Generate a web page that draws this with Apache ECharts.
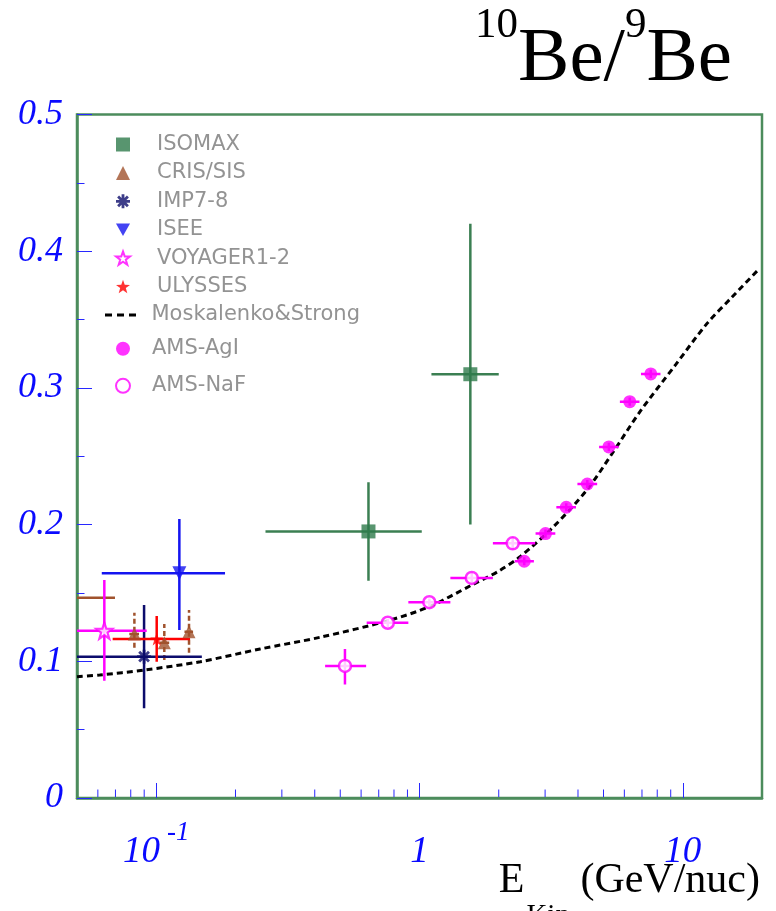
<!DOCTYPE html>
<html><head><meta charset="utf-8">
<script src="https://cdn.jsdelivr.net/npm/echarts@6/dist/echarts.min.js"></script>
<style>html,body{margin:0;padding:0;background:#fff}#c{width:776px;height:911px}</style>
</head><body><div id="c"></div>
<script>
// ---------- data ----------
const isomaxX   = [0.64, 1.56];
const isomaxY   = [0.195, 0.310];
const isomaxXlo = [0.26, 1.11];
const isomaxXhi = [1.02, 2.00];
const isomaxYlo = [0.159, 0.200];
const isomaxYhi = [0.231, 0.420];

const crisX   = [0.045, 0.0826, 0.1073, 0.1332];
const crisY   = [0.1465, 0.1200, 0.1136, 0.1217];
const crisXlo = [0.040, 0.079, 0.103, 0.128];
const crisXhi = [0.0697, 0.086, 0.112, 0.138];
const crisYlo = [0.1465, 0.1100, 0.1010, 0.1063];
const crisYhi = [0.1465, 0.1356, 0.1273, 0.1375];

const impX = [0.0899], impY = [0.1034], impXlo = [0.045], impXhi = [0.149], impYlo = [0.0656], impYhi = [0.1412];
const iseeX = [0.1224], iseeY = [0.1644], iseeXlo = [0.0621], iseeXhi = [0.1825], iseeYlo = [0.1229], iseeYhi = [0.2041];
const voyX = [0.0635], voyY = [0.1224], voyXlo = [0.045], voyXhi = [0.092], voyYlo = [0.0858], voyYhi = [0.1595];
const ulyX = [0.1004], ulyY = [0.1163], ulyXlo = [0.0683], ulyXhi = [0.1344], ulyYlo = [0.0997], ulyYhi = [0.1331];

const agiX   = [2.50, 3.01, 3.61, 4.34, 5.24, 6.29, 7.56];
const agiY   = [0.1732, 0.1934, 0.2127, 0.2297, 0.2568, 0.2899, 0.3102];
const agiXlo = [2.30, 2.76, 3.31, 3.98, 4.81, 5.77, 6.94];
const agiXhi = [2.72, 3.28, 3.93, 4.73, 5.71, 6.85, 8.23];
const agiYlo = [0.1702, 0.1904, 0.2097, 0.2267, 0.2538, 0.2869, 0.3072];
const agiYhi = [0.1762, 0.1964, 0.2157, 0.2327, 0.2598, 0.2929, 0.3132];

const nafX   = [0.521, 0.758, 1.09, 1.58, 2.26];
const nafY   = [0.0966, 0.1282, 0.1432, 0.1610, 0.1863];
const nafXlo = [0.438, 0.630, 0.907, 1.31, 1.90];
const nafXhi = [0.627, 0.907, 1.31, 1.90, 2.75];
const nafYlo = [0.0830, 0.1250, 0.1400, 0.1570, 0.1820];
const nafYhi = [0.1090, 0.1310, 0.1460, 0.1650, 0.1910];

const theoryX = [0.05, 0.061, 0.09, 0.147, 0.248, 0.42, 0.76, 1.09, 1.58, 2.0, 2.41, 3.23, 4.32, 5.45, 6.9, 9.4, 12.35, 15.4, 19.2];
const theoryY = [0.0887, 0.090, 0.0936, 0.0997, 0.109, 0.1176, 0.1297, 0.140, 0.1558, 0.166, 0.1765, 0.1985, 0.2253, 0.2533, 0.283, 0.317, 0.347, 0.3665, 0.3857];

const xMinorTicks = [0.06, 0.07, 0.08, 0.09, 0.2, 0.3, 0.4, 0.5, 0.6, 0.7, 0.8, 0.9, 2, 3, 4, 5, 6, 7, 8, 9];
const legendMain = ['ISOMAX', 'CRIS/SIS', 'IMP7-8', 'ISEE', 'VOYAGER1-2', 'ULYSSES'];
const legendTheory = ['Moskalenko&Strong'];
const legendAms = ['AMS-AgI', 'AMS-NaF'];

// ---------- styles ----------
const FRAME = '#4c8c5c';
const TICK = '#2828ff';
const LABEL = '#0a0aff';
const STAR = 'path://M10 0 L12.35 6.76 L19.51 6.91 L13.8 11.24 L15.88 18.09 L10 14 L4.12 18.09 L6.2 11.24 L0.49 6.91 L7.65 6.76 Z';
const ASTER = 'path://M0 8 L20 8 L20 12 L0 12 Z M8 0 L12 0 L12 20 L8 20 Z M4.41 1.59 L18.41 15.59 L15.59 18.41 L1.59 4.41 Z M15.59 1.59 L18.41 4.41 L4.41 18.41 L1.59 15.59 Z';
const DOWNTRI = 'path://M0 0 L20 0 L10 18 Z';
const DASHICON = 'path://M0 0 H7 V3 H0 Z M12 0 H19 V3 H12 Z M24 0 H31 V3 H24 Z';

function zip(xs, ys, xlo, xhi, ylo, yhi) {
  return xs.map((x, i) => [x, ys[i], xlo[i], xhi[i], ylo[i], yhi[i]]);
}
function errSeries(name, data, color, width, vDash) {
  return {
    type: 'custom', name: name + ' errors', clip: true, silent: true, z: 3,
    data: data, encode: { x: 0, y: 1 },
    renderItem: function (params, api) {
      const x = api.value(0), y = api.value(1);
      const a = api.coord([api.value(2), y]), b = api.coord([api.value(3), y]);
      const c = api.coord([x, api.value(4)]), d = api.coord([x, api.value(5)]);
      return { type: 'group', children: [
        { type: 'line', shape: { x1: a[0], y1: a[1], x2: b[0], y2: b[1] }, style: { stroke: color, lineWidth: width, fill: null } },
        { type: 'line', shape: { x1: c[0], y1: c[1], x2: d[0], y2: d[1] }, style: { stroke: color, lineWidth: width, lineDash: vDash || null, fill: null } }
      ] };
    }
  };
}
function pts(xs, ys) { return xs.map((x, i) => [x, ys[i]]); }

const chart = echarts.init(document.getElementById('c'), null, { renderer: 'canvas' });
const legendText = (gap) => ({ fontFamily: 'DejaVu Sans', fontSize: 21, color: '#939393', padding: [0, 0, 0, gap] });

chart.setOption({
  animation: false,
  backgroundColor: '#fff',
  title: [
    {
      text: '{sup|10}{b|Be/}{sup|9}{b|Be}', right: 44, top: 4, padding: 0,
      textStyle: { rich: {
        b: { fontFamily: 'Liberation Serif', fontWeight: 'normal', fontSize: 77, verticalAlign: 'top', padding: [17.7, 0, 0, 0], color: '#000' },
        sup: { fontFamily: 'Liberation Serif', fontWeight: 'normal', fontSize: 43, verticalAlign: 'top', color: '#000' }
      } }
    },
    {
      text: '{e|E}{s|Kin}{e| (GeV/nuc)}', right: 16, top: 860.3, padding: 0,
      textStyle: { rich: {
        e: { fontFamily: 'Liberation Serif', fontWeight: 'normal', fontSize: 42, verticalAlign: 'top', color: '#000' },
        s: { fontFamily: 'Liberation Serif', fontWeight: 'normal', fontSize: 29, verticalAlign: 'top', padding: [42, 0, 0, 2], color: '#000' }
      } }
    }
  ],
  legend: [
    { data: legendMain, orient: 'vertical', left: 115, top: 134, padding: 0, itemWidth: 14, itemHeight: 14,
      itemGap: 7.4, textStyle: legendText(22), selectedMode: false },
    { data: [{ name: legendTheory[0], icon: DASHICON }], orient: 'vertical', left: 105, top: 304.5, padding: 0,
      itemWidth: 32, itemHeight: 3, textStyle: legendText(10), selectedMode: false },
    { data: legendAms, orient: 'vertical', left: 115, top: 338.3, padding: 0, itemWidth: 14, itemHeight: 14,
      itemGap: 16, textStyle: legendText(17), selectedMode: false }
  ],
  grid: { left: 77, right: 14, top: 114.5, bottom: 113, show: true, borderColor: FRAME, borderWidth: 2.5, containLabel: false },
  xAxis: {
    type: 'log', logBase: 10, min: 0.05, max: 20,
    axisLine: { show: true, lineStyle: { color: FRAME, width: 2.5 } },
    axisTick: { show: true, inside: true, length: 15, lineStyle: { color: TICK, width: 1 } },
    splitLine: { show: false },
    axisLabel: {
      showMinLabel: false, showMaxLabel: false, margin: 21,
      formatter: function (v) {
        if (Math.abs(v - 0.1) < 1e-9) return '{n|10}{e|-1}';
        if (Math.abs(v - 1) < 1e-9) return '{n|1}';
        if (Math.abs(v - 10) < 1e-9) return '{n|10}';
        return '';
      },
      rich: {
        n: { fontFamily: 'Liberation Serif', fontStyle: 'italic', fontSize: 37, verticalAlign: 'top', padding: [14.6, 0, 0, 0], color: LABEL },
        e: { fontFamily: 'Liberation Serif', fontStyle: 'italic', fontSize: 27, verticalAlign: 'top', padding: [0, 0, 0, 7], color: LABEL }
      }
    }
  },
  yAxis: {
    type: 'value', min: 0, max: 0.5, interval: 0.1,
    axisLine: { show: true, lineStyle: { color: FRAME, width: 2.5 } },
    axisTick: { show: true, inside: true, length: 15, lineStyle: { color: TICK, width: 1 } },
    minorTick: { show: true, splitNumber: 2, length: 7.5, lineStyle: { color: TICK, width: 1 } },
    splitLine: { show: false },
    axisLabel: {
      margin: 14, fontFamily: 'Liberation Serif', fontStyle: 'italic', fontSize: 36, color: LABEL,
      formatter: function (v) { return v === 0 ? '0' : v.toFixed(1); }
    }
  },
  series: [
    { type: 'custom', name: 'x minor ticks', silent: true, clip: false, z: 1,
      data: xMinorTicks.map(v => [v, 0]), encode: { x: 0, y: 1 },
      renderItem: function (params, api) {
        const p = api.coord([api.value(0), api.value(1)]);
        return { type: 'line', shape: { x1: p[0], y1: p[1] - 1, x2: p[0], y2: p[1] - 8.5 }, style: { stroke: TICK, lineWidth: 1 } };
      } },
    { type: 'line', name: 'Moskalenko&Strong', data: pts(theoryX, theoryY), smooth: 0.3, symbol: 'none', clip: true, z: 2,
      itemStyle: { color: '#000' }, lineStyle: { color: '#000', width: 3, type: [6, 4] } },

    errSeries('ISOMAX', zip(isomaxX, isomaxY, isomaxXlo, isomaxXhi, isomaxYlo, isomaxYhi), '#3b7f52', 2.5),
    errSeries('CRIS/SIS', zip(crisX, crisY, crisXlo, crisXhi, crisYlo, crisYhi), '#a0522d', 2.5, [5, 3]),
    errSeries('IMP7-8', zip(impX, impY, impXlo, impXhi, impYlo, impYhi), '#0c0c6c', 2.5),
    errSeries('ISEE', zip(iseeX, iseeY, iseeXlo, iseeXhi, iseeYlo, iseeYhi), '#1414f0', 2.5),
    errSeries('VOYAGER1-2', zip(voyX, voyY, voyXlo, voyXhi, voyYlo, voyYhi), '#ff00ff', 2.5),
    errSeries('ULYSSES', zip(ulyX, ulyY, ulyXlo, ulyXhi, ulyYlo, ulyYhi), '#ff0000', 2.5),
    errSeries('AMS-AgI', zip(agiX, agiY, agiXlo, agiXhi, agiYlo, agiYhi), '#ff00ff', 2.5),
    errSeries('AMS-NaF', zip(nafX, nafY, nafXlo, nafXhi, nafYlo, nafYhi), '#ff00ff', 2.5),

    { type: 'scatter', name: 'ISOMAX', data: pts(isomaxX, isomaxY), symbol: 'rect', symbolSize: 14, clip: true, z: 4,
      itemStyle: { color: '#2e7b4b' } },
    { type: 'scatter', name: 'CRIS/SIS', data: pts(crisX, crisY), symbol: 'triangle', symbolSize: 13, clip: true, z: 4,
      itemStyle: { color: '#a0522d' } },
    { type: 'scatter', name: 'IMP7-8', data: pts(impX, impY), symbol: ASTER, symbolSize: 14, clip: true, z: 4,
      itemStyle: { color: '#0c0c6c' } },
    { type: 'scatter', name: 'ISEE', data: pts(iseeX, iseeY), symbol: DOWNTRI, symbolSize: 14, clip: true, z: 4,
      itemStyle: { color: '#1414f0' } },
    { type: 'scatter', name: 'VOYAGER1-2', data: pts(voyX, voyY), symbol: STAR, symbolSize: 16, clip: true, z: 4,
      itemStyle: { color: '#ffffff', borderColor: '#ff00ff', borderWidth: 2.2 } },
    { type: 'scatter', name: 'ULYSSES', data: pts(ulyX, ulyY), symbol: STAR, symbolSize: 13, clip: true, z: 4,
      itemStyle: { color: '#ff0000' } },
    { type: 'scatter', name: 'AMS-AgI', data: pts(agiX, agiY), symbol: 'circle', symbolSize: 13, clip: true, z: 4,
      itemStyle: { color: '#ff00ff' } },
    { type: 'scatter', name: 'AMS-NaF', data: pts(nafX, nafY), symbol: 'circle', symbolSize: 12, clip: true, z: 4,
      itemStyle: { color: '#ffffff', borderColor: '#ff00ff', borderWidth: 2.5 } }
  ]
});
</script>
</body></html>
